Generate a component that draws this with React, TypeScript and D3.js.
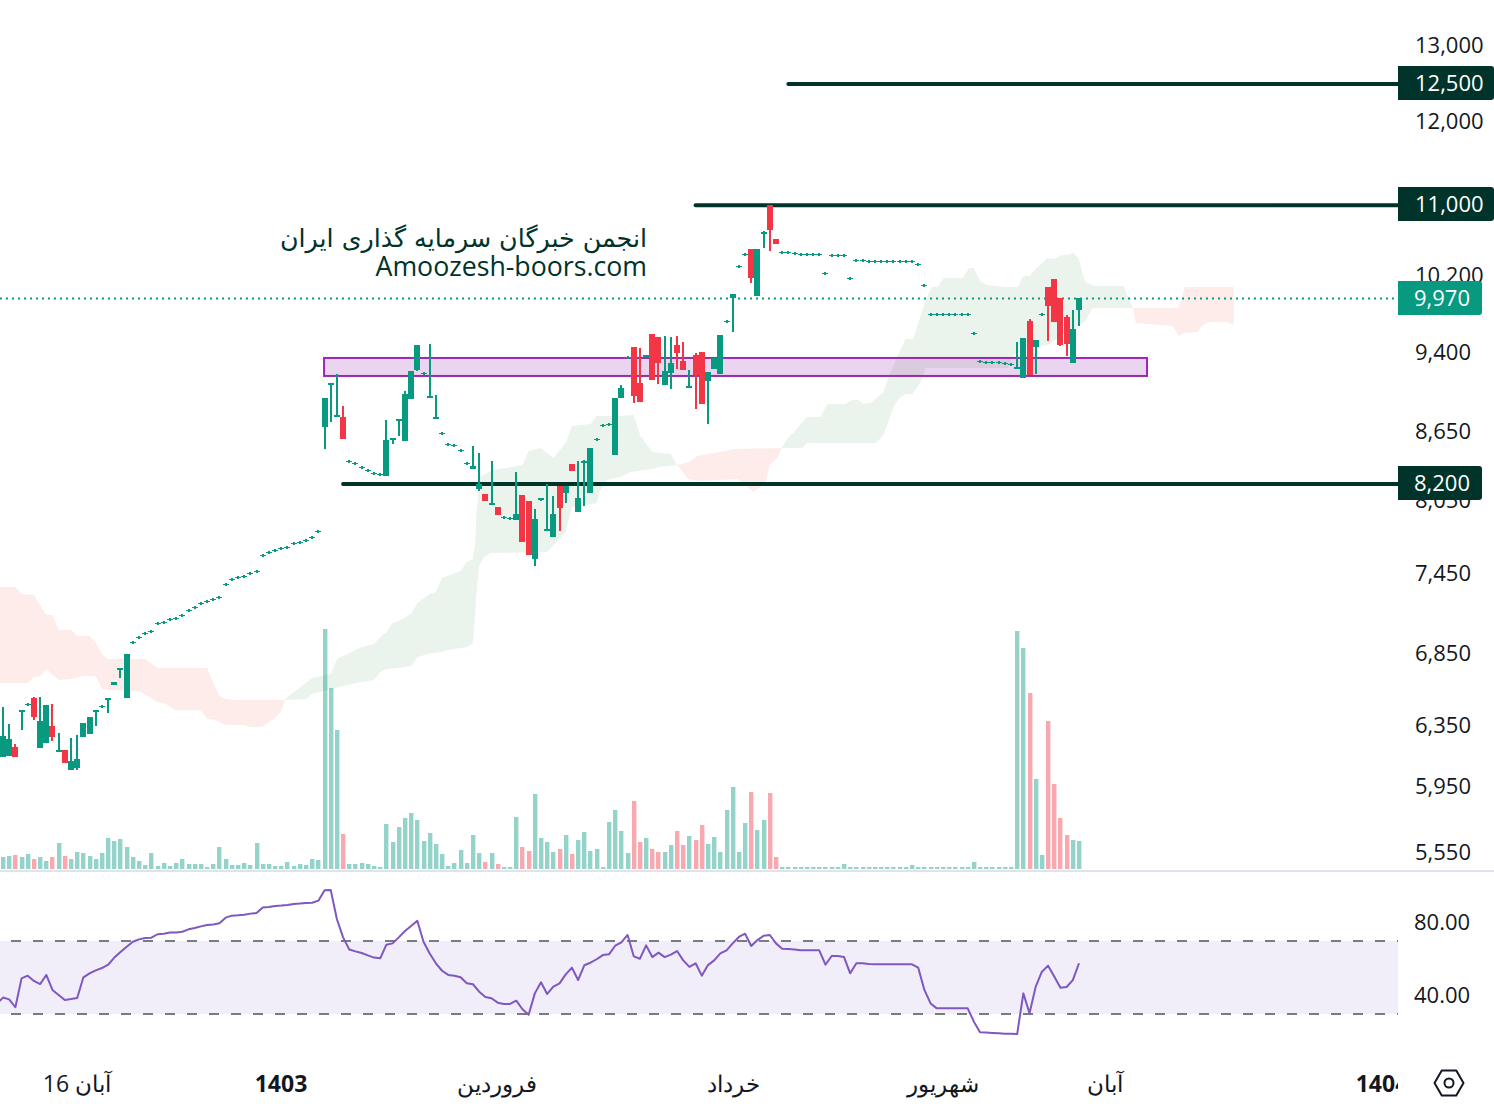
import React, { useMemo } from 'react';
import * as d3 from 'd3';

const n = null; // single price bars: open, high and low equal the close

const closes = [
  6286,6267,6149,6461,6495,6413,6386,6495,6280,6194,6110,6123,6136,6373,6413,6461,6482,6544,6655,6754,6854,
  6934,6971,7000,7015,7075,7083,7105,7112,7135,7172,7195,7225,7240,7256,7271,7372,7411,7427,7435,7459,7474,
  7601,7625,7641,7657,7665,7698,7706,7722,7746,7796,
  8978,9121,8818,8598,8392,8375,8340,8313,8287,8279,
  8589,8607,8781,9016,9237,9494,9208,8997,8800,8644,8544,8535,8490,8375,
  8357,8200,8055,8038,7936,7912,7903,7945,7714,7609,7903,8080,7820,7945,7995,8183,8313,8080,8401,8517,
  8589,8717,8726,8978,9073,9365,8997,8940,9394,9150,9315,9237,9315,9414,9247,9092,9198,8921,9227,9365,9594,
  9727,10018,10307,10438,10189,10504,10695,10717,10560,
  10460,10460,10449,10438,10438,10438,10438,10232,10427,10427,10427,10178,10372,10372,
  10361,10361,10361,10361,10361,10361,10361,10361,10329,10103,
  9798,9798,9798,9798,9798,9798,9798,9605,9325,9315,9315,9315,9306,9296,
  9281,9564,9198,9544,9798,9892,9727,9494,9504,9655,9976,
];

const opens = [
  6149,6155,6214,6447,n,6544,6207,6240,6353,6190,6194,6065,6078,6280,6300,6454,n,6540,6634,6750,6544,
  n,n,n,n,n,n,n,n,n,n,n,n,n,n,n,n,n,n,n,n,n,
  n,n,n,n,n,n,n,n,n,n,
  8707,9112,8813,8800,n,n,n,n,n,n,
  8270,8603,8776,8580,8968,9247,n,8992,8795,n,n,n,n,n,
  8331,8158,8114,8034,8003,n,n,7895,8106,8055,7577,8072,7816,7755,8183,8123,8375,7961,8397,8123,
  n,n,n,8454,8978,n,9472,9121,9375,9604,9574,9102,9217,9494,9335,9087,9394,9424,9140,9257,9208,
  n,9976,n,n,10504,9997,10690,11000,10616,
  n,n,n,n,n,n,n,n,n,n,n,n,n,n,
  n,n,n,n,n,n,n,n,n,n,
  n,n,n,n,n,n,n,n,n,n,n,n,n,n,
  9276,9169,9737,9474,n,10092,10178,9976,9778,9315,9850,
];

const highs = [
  6482,6366,6234,6461,n,6551,6551,6495,6502,6306,6194,6273,6293,6373,6413,6461,n,6544,6655,6754,6854,
  n,n,n,n,n,n,n,n,n,n,n,n,n,n,n,n,n,n,n,n,n,
  n,n,n,n,n,n,n,n,n,n,
  8978,9121,9208,8902,n,n,n,n,n,n,
  8772,8607,8781,9044,9237,9494,n,9504,9006,n,n,n,n,n,
  8535,8472,8114,8401,8003,n,n,8304,8106,8055,7986,8080,8200,8097,8183,8183,8375,8401,8410,8517,
  n,n,n,8978,9102,n,9472,9463,9394,9604,9574,9584,9574,9584,9524,9247,9414,9424,9227,9365,9594,
  n,10018,n,n,10504,10504,10706,11000,10616,
  n,n,n,n,n,n,n,n,n,n,n,n,n,n,
  n,n,n,n,n,n,n,n,n,n,
  n,n,n,n,n,n,n,n,n,n,n,n,n,n,
  9524,9564,9757,9544,n,10092,10178,9976,9798,9850,9976,
];

const lows = [
  6149,6155,6149,6326,n,6393,6207,6240,6253,6181,6110,6065,6065,6280,6300,6353,n,6440,6634,6683,6544,
  n,n,n,n,n,n,n,n,n,n,n,n,n,n,n,n,n,n,n,n,n,
  n,n,n,n,n,n,n,n,n,n,
  8508,8754,8809,8598,n,n,n,n,n,n,
  8270,8553,8625,8580,8968,9237,n,8987,8790,n,n,n,n,n,
  8331,8140,8055,8029,7936,n,n,7895,7714,7609,7522,8055,7804,7755,7804,8038,8313,7961,8012,8123,
  n,n,n,8454,8978,n,8931,8940,9375,9150,9112,9102,9064,9257,9247,9083,8875,8921,8735,9257,9208,
  n,9625,n,n,10135,9997,10515,10482,10560,
  n,n,n,n,n,n,n,n,n,n,n,n,n,n,
  n,n,n,n,n,n,n,n,n,n,
  n,n,n,n,n,n,n,n,n,n,n,n,n,n,
  9276,9169,9198,9208,n,9534,9727,9484,9385,9315,9686,
];

const volumes = [
  12,13,14,12,15,10,12,8,12,26,13,10,17,16,13,10,16,31,28,30,22,12,8,4,16,3,6,3,6,10,
  5,5,5,2,5,22,10,4,4,6,4,26,5,5,3,3,7,3,5,4,10,9,
  240,181,139,35,5,5,6,5,3,2,45,27,42,51,56,49,28,36,25,15,3,6,19,6,34,16,7,16,5,2,2,
  52,22,18,75,31,27,17,20,34,15,29,37,18,20,2,47,59,38,16,68,27,31,20,17,17,24,38,24,33,29,44,25,32,17,59,82,17,46,77,39,49,76,12,
  2,2,2,2,2,2,2,2,2,2,5,2,2,2,2,2,2,2,2,2,2,4,2,2,2,2,2,2,2,2,2,7,2,2,2,2,2,2,
  238,221,176,90,14,148,85,51,34,29,28,
];

// value of the bar just off the left edge
const rsiBefore = 35.5;
const rsiValues = [
  39.0,38.0,33.7,49.5,51.0,48.1,46.4,51.4,43.2,40.4,37.7,38.2,38.8,50.1,52.3,53.9,55.2,57.0,60.9,64.0,66.9,
  69.6,70.9,71.6,71.8,73.7,74.0,74.6,74.7,75.1,76.4,77.1,78.0,78.8,79.1,79.7,82.8,83.9,84.1,84.4,85.0,85.3,
  88.3,88.6,89.2,89.4,89.7,90.3,90.5,90.8,91.0,92.1,97.8,97.9,81.9,72.0,65.3,64.3,63.4,62.1,60.9,60.5,
  68.0,68.7,72.0,75.5,78.2,81.1,69.6,63.2,57.8,53.7,51.4,51.0,50.1,46.8,46.3,42.2,39.3,38.6,36.2,35.5,35.5,
  37.3,32.6,29.6,41.3,47.4,41.0,45.0,46.8,51.7,55.4,48.6,56.7,58.1,60.0,62.3,62.7,67.4,69.3,73.3,61.6,60.3,
  67.6,61.2,63.6,61.2,62.5,64.5,59.4,55.8,57.8,51.0,56.8,59.4,63.2,64.9,68.7,72.2,74.0,67.3,70.5,72.9,73.3,
  68.7,65.8,65.6,65.3,64.9,64.9,64.9,64.9,57.0,61.8,61.8,61.2,52.3,57.8,57.8,57.4,57.2,57.2,57.2,57.2,57.2,57.2,57.2,
  55.4,43.2,35.8,33.1,33.1,33.1,33.1,33.1,33.1,25.8,20.0,19.8,19.6,19.4,19.2,19.2,19.0,41.3,30.4,45.0,53.2,56.5,50.5,44.4,44.8,48.6,57.8,
];

// cloud outlines as [bar, price], upper edge and lower edge
const redCloud1Upper = [[-1,7356],[2,7356],[3,7302],[5,7295],[7,7142],[8,7142],[9,7030],[11,7030],[12,6986],[14,6986],[15,6934],[16,6854],[17,6818],[23,6818],[25,6754],[33,6754],[34,6648],[35,6558],[36,6537],[38,6530],[45.6,6530]];
const redCloud1Lower = [[-1,6648],[4,6648],[5,6690],[6,6697],[7,6747],[9,6669],[11,6676],[13,6697],[15,6697],[16,6606],[17,6599],[22,6592],[25,6516],[26,6509],[28,6461],[32,6461],[33,6400],[34,6400],[36,6360],[39,6360],[40,6346],[41,6346],[42,6353],[44,6407],[45,6454],[45.6,6530]];
const greenCloud1Upper = [[45.6,6530],[46,6551],[50,6683],[53,6711],[54,6818],[58,6905],[60,6927],[61,6978],[62,7015],[63,7083],[64,7097],[66,7150],[67,7233],[69,7302],[70,7317],[71,7427],[74,7482],[75,7553],[76,7577],[76.4,7730],[76.5,7920],[76.9,8149],[77,8261],[79.3,8322],[84,8366],[85,8490],[87,8517],[88,8472],[89,8428],[91,8562],[92,8717],[95,8735],[96,8809],[99.5,8809],[102,8818],[103,8635],[105,8481],[108,8463],[109,8366]];
const greenCloud1Lower = [[45.6,6530],[49,6537],[50,6572],[55,6627],[58,6655],[60,6669],[61,6726],[62,6747],[64,6754],[66,6768],[67,6832],[68.6,6854],[71,6869],[72,6883],[75,6905],[76,6934],[76.7,7387],[77,7522],[77.8,7593],[78.8,7625],[88,7633],[91,7796],[92,8003],[96,8038],[96.6,8149],[97.7,8235],[99.8,8261],[101.5,8304],[105,8331],[106,8348],[109,8366]];
const redCloud2Upper = [[109,8366],[111,8392],[112.3,8446],[114,8463],[117,8490],[118,8508],[125.7,8517]];
const redCloud2Lower = [[109,8366],[110.8,8244],[112.8,8226],[118.8,8244],[121.4,8132],[123.3,8209],[124,8366],[125.2,8428],[125.9,8517]];
const greenCloud2Upper = [[125.9,8517],[126.9,8607],[127.8,8653],[130,8800],[132.2,8800],[133.3,8921],[136.2,8921],[137.4,8959],[138.4,8959],[139.2,8921],[140.3,8931],[142.4,9035],[143,9150],[145.1,9444],[146,9554],[147.2,9554],[149.2,9955],[150.2,10092],[151.1,10092],[152.1,10189],[155.2,10189],[156.2,10296],[157,10296],[158.1,10146],[159.2,10114],[162.1,10092],[164.1,10092],[165,10210],[166,10210],[167.3,10307],[168.9,10405],[170,10394],[171.2,10438],[172.2,10438],[173.1,10460],[173.9,10405],[175,10146],[176.4,10103],[181.2,10103],[182.7,9871]];
const greenCloud2Lower = [[125.9,8517],[129.3,8517],[130,8562],[141.1,8562],[142.4,8635],[144,8893],[144.8,8968],[146,9016],[147.1,9016],[148.4,9131],[149.2,9267],[162.5,9267],[163.3,9385],[165.4,9474],[169,9494],[171,9584],[172.9,9625],[175,9737],[176.2,9871],[182.7,9871]];
const redCloud3Upper = [[182.7,9871],[190.1,9871],[191.1,10092],[199,10092]];
const redCloud3Lower = [[182.7,9871],[183.2,9717],[189.2,9687],[190.1,9584],[190.9,9615],[193.2,9625],[194,9697],[195,9727],[198,9727],[199,9697]];

const priceTicks = [13000, 12000, 10200, 9400, 8650, 8050, 7450, 6850, 6350, 5950, 5550];
const rsiTicks = [80, 40];
const levels = [
  { price: 12500, fromBar: 127 },
  { price: 11000, fromBar: 112 },
  { price: 8200, fromBar: 55 },
];
const lastPrice = 9970;
const zoneTop = 9365;
const zoneBottom = 9189;
const zoneFromBar = 52;
const zoneToBar = 185;
const monthLabels = [
  { label: '16 آبان', x: 77, bold: false },
  { label: '1403', x: 281, bold: true },
  { label: 'فروردین', x: 497, bold: false },
  { label: 'خرداد', x: 733, bold: false },
  { label: 'شهریور', x: 943, bold: false },
  { label: 'آبان', x: 1105, bold: false },
  { label: '1404', x: 1382, bold: true },
];

const WIDTH = 1494;
const HEIGHT = 1108;
const PLOT_RIGHT = 1398;
const GREEN = '#089981';
const RED = '#f23645';
const DARK = '#00332a';
const TEXT = '#131722';
const FONT = '"Open Sans", "Noto Sans", sans-serif';

export default function App() {
  const x = useMemo(() => d3.scaleLinear().domain([0, 174]).range([3, 1079]), []);
  const y = useMemo(() => d3.scaleLog().domain([12500, 8200]).range([84, 484]), []);
  const yVol = useMemo(() => d3.scaleLinear().domain([0, 240]).range([869, 629]), []);
  const yRsi = useMemo(() => d3.scaleLinear().domain([70, 30]).range([941, 1014]), []);

  const cloudPath = (upper: number[][], lower: number[][]) => {
    const line = d3.line<number[]>().x((d) => x(d[0])).y((d) => y(d[1]));
    return line(upper.concat([...lower].reverse())) + 'Z';
  };

  const rsiLine = d3.line<number>().x((_, i) => x(i - 1)).y((d) => yRsi(d))([rsiBefore, ...rsiValues]);

  const bars = closes.map((c, i) => ({
    c,
    o: opens[i] ?? c,
    h: highs[i] ?? c,
    l: lows[i] ?? c,
    up: (opens[i] ?? c) <= c,
    cx: Math.round(x(i)),
  }));

  const badge = (label: string, value: number, w: number, fill: string, textX: number) => {
    const cy = Math.round(y(value)) - 1;
    return (
      <g key={label}>
        <path
          d={`M${PLOT_RIGHT},${cy - 17}H${PLOT_RIGHT + w - 3}a3,3 0 0 1 3,3V${cy + 14}a3,3 0 0 1 -3,3H${PLOT_RIGHT}Z`}
          fill={fill}
        />
        <text x={textX} y={cy + 8} fill="#fff" fontSize={22} fontFamily={FONT}>{label}</text>
      </g>
    );
  };

  return (
    <svg width={WIDTH} height={HEIGHT} style={{ position: 'absolute', left: 0, top: 0, background: '#fff' }}>
      <defs>
        <clipPath id="plot"><rect x={0} y={0} width={PLOT_RIGHT} height={HEIGHT} /></clipPath>
      </defs>

      {/* cloud */}
      <path d={cloudPath(redCloud1Upper, redCloud1Lower)} fill="#feecea" clipPath="url(#plot)" />
      <path d={cloudPath(greenCloud1Upper, greenCloud1Lower)} fill="#ebf4ec" />
      <path d={cloudPath(redCloud2Upper, redCloud2Lower)} fill="#feecea" />
      <path d={cloudPath(greenCloud2Upper, greenCloud2Lower)} fill="#ebf4ec" />
      <path d={cloudPath(redCloud3Upper, redCloud3Lower)} fill="#feecea" />

      {/* volume */}
      {volumes.map((v, i) => (
        <rect
          key={i}
          x={Math.round(x(i)) - 2}
          y={yVol(v)}
          width={4.4}
          height={yVol(0) - yVol(v)}
          fill={bars[i].up ? GREEN : RED}
          fillOpacity={0.43}
        />
      ))}

      {/* zone and levels */}
      <rect
        x={x(zoneFromBar) - 0.5}
        y={y(zoneTop)}
        width={x(zoneToBar) - x(zoneFromBar) + 0.5}
        height={y(zoneBottom) - y(zoneTop)}
        fill="#9c27b0"
        fillOpacity={0.2}
        stroke="#9c27b0"
        strokeWidth={2}
      />
      <line
        x1={0}
        x2={PLOT_RIGHT}
        y1={y(lastPrice)}
        y2={y(lastPrice)}
        stroke={GREEN}
        strokeWidth={2}
        strokeDasharray="2 4"
      />
      {levels.map((d) => (
        <line
          key={d.price}
          x1={x(d.fromBar)}
          x2={PLOT_RIGHT}
          y1={y(d.price)}
          y2={y(d.price)}
          stroke={DARK}
          strokeWidth={4}
          strokeLinecap="round"
        />
      ))}

      {/* candles */}
      <g shapeRendering="crispEdges">
        {bars.map((b, i) => {
          const top = Math.round(y(Math.max(b.o, b.c)));
          const bottom = Math.round(y(Math.min(b.o, b.c)));
          const single = b.h === b.l;
          const color = b.up ? GREEN : RED;
          return (
            <g key={i} fill={color}>
              {single ? (
                <>
                  <rect x={b.cx - 1} y={top - 2} width={2} height={3} />
                  <rect x={b.cx - 3} y={top - 1} width={6} height={1} />
                </>
              ) : (
                <>
                  <rect x={b.cx - 1} y={Math.round(y(b.h))} width={2} height={Math.max(1, Math.round(y(b.l)) - Math.round(y(b.h)))} />
                  <rect x={b.cx - 3} y={top} width={6} height={Math.max(2, bottom - top)} />
                </>
              )}
            </g>
          );
        })}
      </g>

      {/* annotation */}
      <text x={647} y={247} textAnchor="end" fontSize={25.3} fill={DARK} fontFamily={'"DejaVu Sans", sans-serif'}>
        انجمن خبرگان سرمایه گذاری ایران
      </text>
      <text x={647} y={276} textAnchor="end" fontSize={26.7} fill={DARK} fontFamily={FONT}>
        Amoozesh-boors.com
      </text>

      {/* pane divider */}
      <rect x={0} y={870} width={WIDTH} height={2} fill="#e0e3eb" />

      {/* rsi */}
      <rect x={0} y={yRsi(70)} width={PLOT_RIGHT} height={yRsi(30) - yRsi(70)} fill="#7e57c2" fillOpacity={0.1} />
      {[70, 30].map((v) => (
        <line
          key={v}
          x1={0}
          x2={PLOT_RIGHT}
          y1={yRsi(v)}
          y2={yRsi(v)}
          stroke="#787b86"
          strokeWidth={2}
          strokeDasharray="10 12"
          strokeDashoffset={-11}
        />
      ))}
      <path d={rsiLine || ''} fill="none" stroke="#7e57c2" strokeWidth={2} strokeLinejoin="round" />

      {/* price axis */}
      <rect x={PLOT_RIGHT} y={0} width={WIDTH - PLOT_RIGHT} height={868} fill="#fff" />
      {priceTicks.map((t) => (
        <text key={t} x={1415} y={y(t) + 6} fontSize={22} fill={TEXT} fontFamily={FONT}>
          {d3.format(',')(t)}
        </text>
      ))}
      {badge('12,500', 12500, 96, DARK, 1415)}
      {badge('11,000', 11000, 96, DARK, 1415)}
      {badge('8,200', 8200, 84, DARK, 1414)}
      {badge('9,970', lastPrice, 84, GREEN, 1414)}

      {/* rsi axis */}
      {rsiTicks.map((t) => (
        <text key={t} x={1414} y={yRsi(t) + 7} fontSize={22} fill={TEXT} fontFamily={FONT}>
          {t.toFixed(2)}
        </text>
      ))}

      {/* time axis */}
      <g clipPath="url(#plot)">
        {monthLabels.map((d) => (
          <text
            key={d.label}
            x={d.x}
            y={1092}
            textAnchor="middle"
            fontSize={23}
            fontWeight={d.bold ? 700 : 400}
            fill={TEXT}
            fontFamily={FONT}
          >
            {d.label}
          </text>
        ))}
      </g>

      {/* settings icon */}
      <path
        d={d3.line()(d3.range(6).map((k) => {
          const a = (Math.PI / 3) * k;
          return [1449 + 14.5 * Math.cos(a), 1083 + 14.5 * Math.sin(a)] as [number, number];
        })) + 'Z'}
        fill="none"
        stroke={TEXT}
        strokeWidth={2}
        strokeLinejoin="round"
      />
      <circle cx={1449} cy={1083} r={4.5} fill="none" stroke={TEXT} strokeWidth={2} />
    </svg>
  );
}
